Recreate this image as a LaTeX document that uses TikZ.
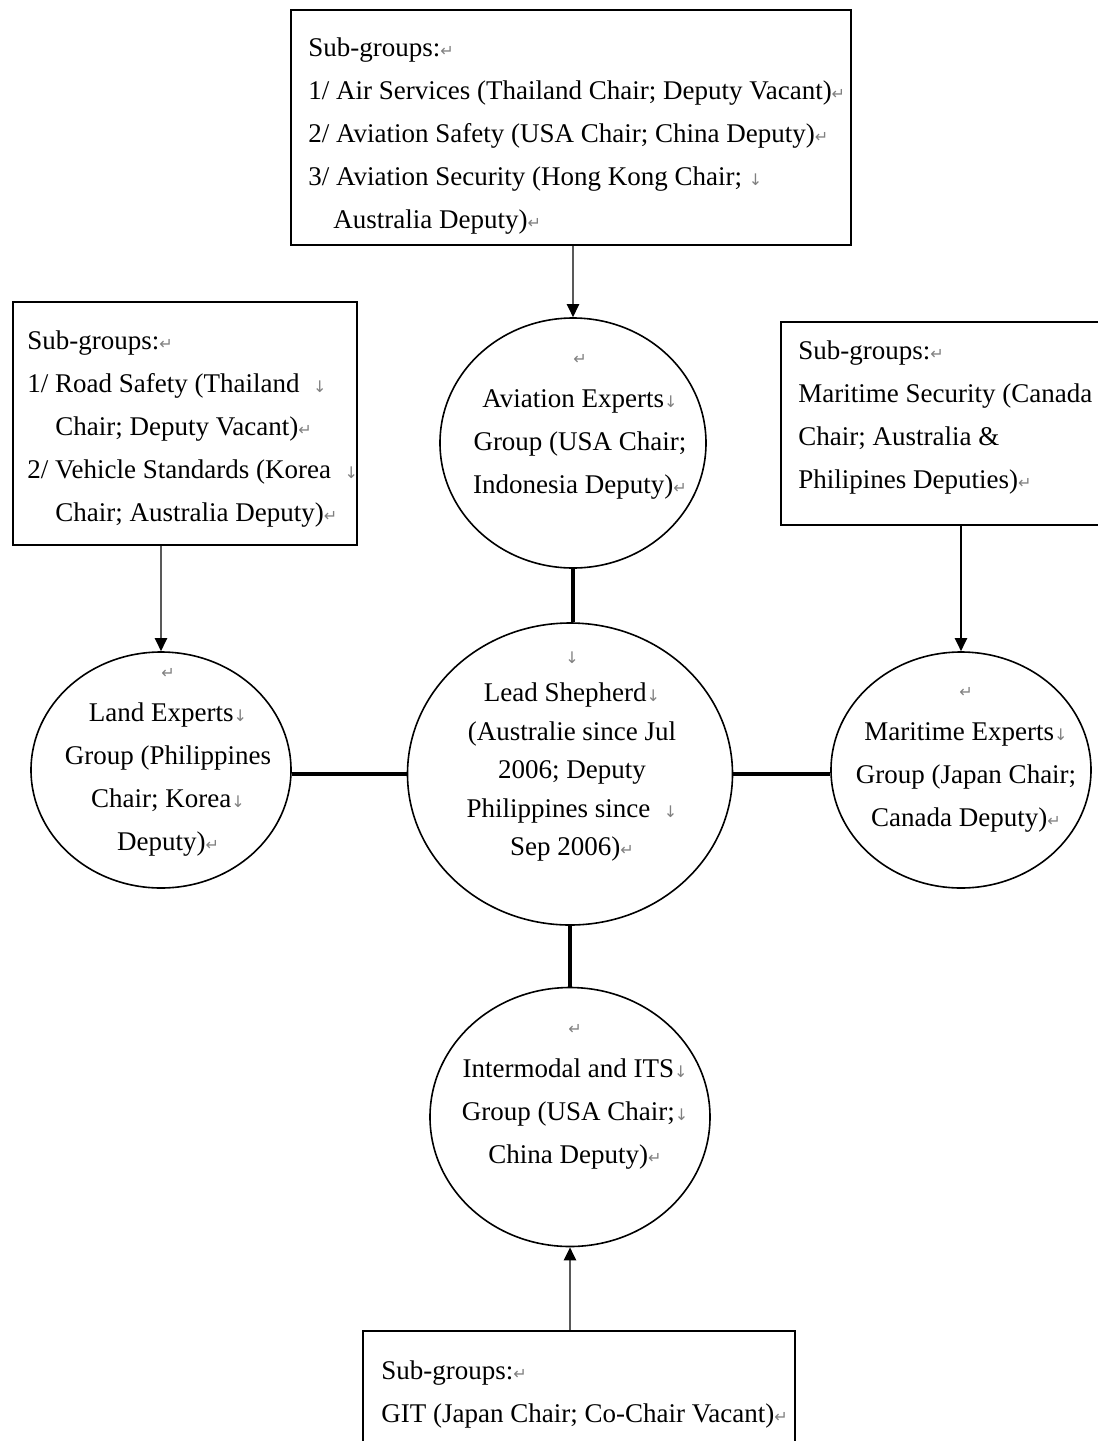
\documentclass[tikz,border=0pt]{standalone}
\usepackage{fontspec}
\setmainfont{Liberation Serif}
\newfontfamily\markfont{DejaVu Sans}
\usetikzlibrary{shapes.geometric,arrows.meta}
\definecolor{markgray}{gray}{0.5}
\definecolor{arrowgray}{gray}{0.35}
\newcommand\pmark{{\markfont\fontsize{8}{8}\selectfont\textcolor{markgray}{↵}}}
\newcommand\lmark{{\markfont\fontsize{8}{8}\selectfont\textcolor{markgray}{↓}}}
\tikzset{
  boxnode/.style={draw=black, line width=1pt, rectangle, inner sep=0pt},
  circnode/.style={draw=black, line width=0.8pt, ellipse, inner sep=0pt},
  txt/.style={font=\fontsize{13.5}{21.5}\selectfont, inner sep=0pt},
  leadtxt/.style={font=\fontsize{13.5}{19.25}\selectfont, inner sep=0pt},
  thickline/.style={draw=black, line width=1.7pt},
  arr/.style={draw=arrowgray, line width=1.2pt, -{Triangle[length=6.5pt,width=6pt,color=black]}},
  arrblack/.style={draw=black, line width=1pt, -{Triangle[length=6.5pt,width=6pt,color=black]}}
}
\begin{document}
\begin{tikzpicture}[x=0.5pt,y=-0.5pt]
\useasboundingbox (0,0) rectangle (1098,1441);
\clip (0,0) rectangle (1098,1441);
\fill[white] (0,0) rectangle (1098,1441);

% boxes
\node[boxnode, minimum width=280pt, minimum height=117.5pt] (topbox) at (571,127.5) {};
\node[boxnode, minimum width=172pt, minimum height=121.5pt] (leftbox) at (185,423.5) {};
\node[boxnode, minimum width=160pt, minimum height=101.5pt] (rightbox) at (941,423.5) {};
\node[boxnode, minimum width=216pt, minimum height=64.5pt] (bottombox) at (579,1395.5) {};

% ellipses
\node[circnode, minimum width=133pt, minimum height=125pt] (aviation) at (573,443) {};
\node[circnode, minimum width=162.5pt, minimum height=151pt] (lead) at (570,774) {};
\node[circnode, minimum width=130pt, minimum height=118pt] (land) at (161,770) {};
\node[circnode, minimum width=130pt, minimum height=118pt] (maritime) at (961,770) {};
\node[circnode, minimum width=140pt, minimum height=129.5pt] (intermodal) at (570,1117) {};

% box texts (anchored at the baseline of their last line)
\node[txt, anchor=base west, align=left] (toptext) at (308,228)
 {Sub-groups:\pmark\\
  1/ Air Services (Thailand Chair; Deputy Vacant)\pmark\\
  2/ Aviation Safety (USA Chair; China Deputy)\pmark\\
  3/ Aviation Security (Hong Kong Chair; \lmark\\
  \hspace*{12.5pt}Australia Deputy)\pmark};
\node[txt, anchor=base west, align=left] (lefttext) at (27,521)
 {Sub-groups:\pmark\\
  1/ Road Safety (Thailand \ \lmark\\
  \hspace*{14pt}Chair; Deputy Vacant)\pmark\\
  2/ Vehicle Standards (Korea \ \lmark\\
  \hspace*{14pt}Chair; Australia Deputy)\pmark};
\node[txt, anchor=base west, align=left] (righttext) at (798,488)
 {Sub-groups:\pmark\\
  Maritime Security (Canada\\
  Chair; Australia \&\\
  Philipines Deputies)\pmark};
\node[txt, anchor=base west, align=left] (bottomtext) at (381,1422)
 {Sub-groups:\pmark\\
  GIT (Japan Chair; Co-Chair Vacant)\pmark};

% circle texts
\node[txt, anchor=base, align=center] (aviationtext) at (580,493)
 {\pmark\\ Aviation Experts\lmark\\ Group (USA Chair;\\ Indonesia Deputy)\pmark};
\node[leadtxt, anchor=base, align=center] (leadtext) at (572,855.5)
 {\lmark\\ Lead Shepherd\lmark\\ (Australie since Jul\\ 2006; Deputy\\ Philippines since \ \lmark\\ Sep 2006)\pmark};
\node[txt, anchor=base, align=center] (landtext) at (168,850)
 {\pmark\\ Land Experts\lmark\\ Group (Philippines\\ Chair; Korea\lmark\\ Deputy)\pmark};
\node[txt, anchor=base, align=center] (maritimetext) at (966,826)
 {\pmark\\ Maritime Experts\lmark\\ Group (Japan Chair;\\ Canada Deputy)\pmark};
\node[txt, anchor=base, align=center] (intermodaltext) at (575,1163)
 {\pmark\\ Intermodal and ITS\lmark\\ Group (USA Chair;\lmark\\ China Deputy)\pmark};

% connectors
\draw[arr] (topbox.south -| aviation.north) -- (aviation.north);
\draw[arr] (leftbox.south -| land.north) -- (land.north);
\draw[arrblack] (rightbox.south -| maritime.north) -- (maritime.north);
\draw[arr] (bottombox.north -| intermodal.south) -- (intermodal.south);
\draw[thickline] (aviation.south) -- (lead.north -| aviation.south);
\draw[thickline] (lead.south) -- (intermodal.north);
\draw[thickline] (lead.west) -- (land.east |- lead.west);
\draw[thickline] (lead.east) -- (maritime.west |- lead.east);
\end{tikzpicture}
\end{document}
